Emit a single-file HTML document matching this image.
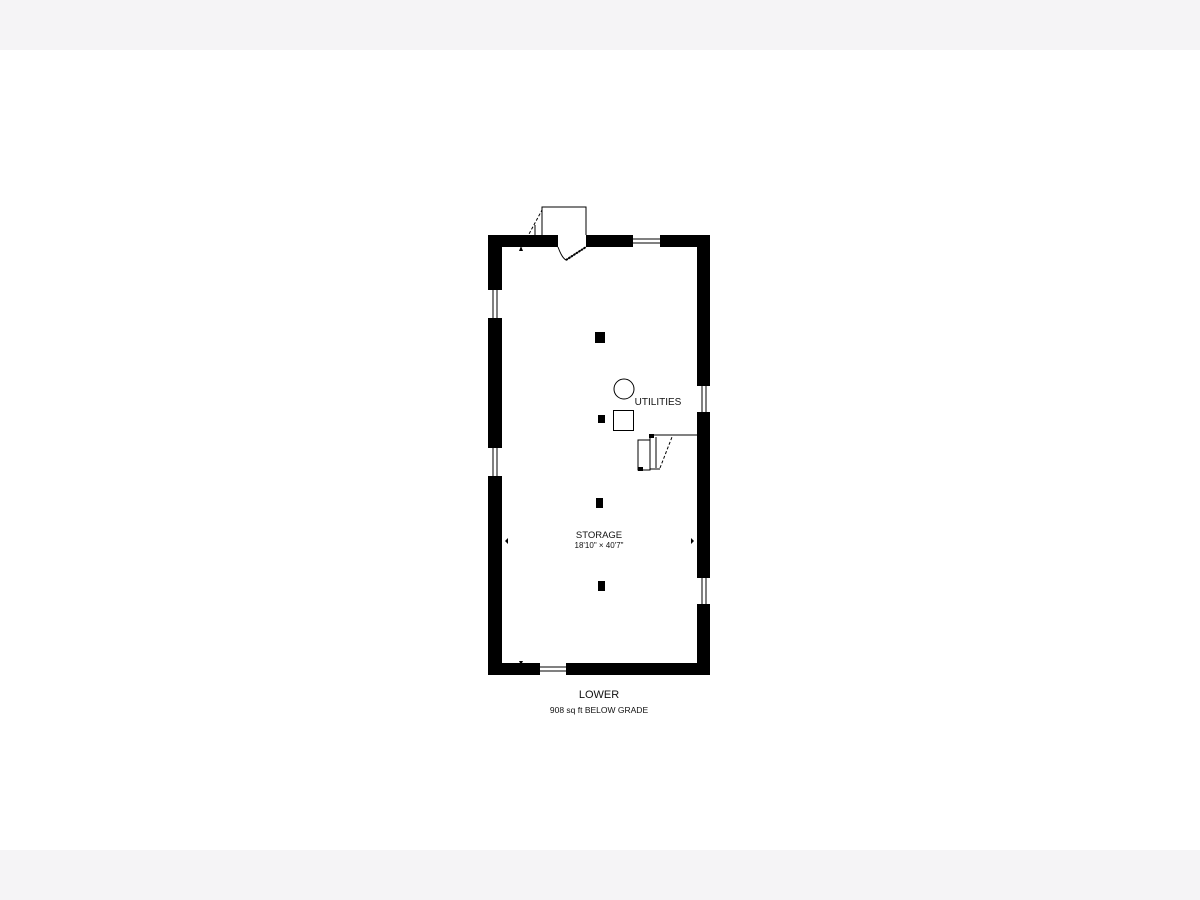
<!DOCTYPE html>
<html><head><style>
body{margin:0;width:1200px;height:900px;background:#fff;position:relative;overflow:hidden;font-family:"Liberation Sans",sans-serif}
.band{position:absolute;left:0;width:1200px;height:50px;background:#f5f4f6}
</style></head><body>
<div class="band" style="top:0"></div>
<div class="band" style="top:850px"></div>
<svg width="1200" height="900" style="position:absolute;left:0;top:0">
<g fill="#000">
<!-- top wall -->
<rect x="488" y="235" width="70" height="12"/>
<rect x="586" y="235" width="47" height="12"/>
<rect x="660" y="235" width="50" height="12"/>
<!-- left wall -->
<rect x="488" y="235" width="14" height="55"/>
<rect x="488" y="318" width="14" height="130"/>
<rect x="488" y="476" width="14" height="199"/>
<!-- right wall -->
<rect x="697" y="235" width="13" height="151"/>
<rect x="697" y="412" width="13" height="166"/>
<rect x="697" y="604" width="13" height="71"/>
<!-- bottom -->
<rect x="488" y="663" width="52" height="12"/>
<rect x="566" y="663" width="144" height="12"/>
<!-- columns -->
<rect x="595" y="332" width="10" height="11"/>
<rect x="598" y="415" width="7" height="8"/>
<rect x="596" y="498" width="7" height="10"/>
<rect x="598" y="581" width="7" height="10"/>
</g>
<g stroke="#000" stroke-width="1" fill="none">
<!-- windows -->
<line x1="633" y1="239" x2="660" y2="239"/><line x1="633" y1="243" x2="660" y2="243"/>
<line x1="493" y1="290" x2="493" y2="318"/><line x1="497" y1="290" x2="497" y2="318"/>
<line x1="493" y1="448" x2="493" y2="476"/><line x1="497" y1="448" x2="497" y2="476"/>
<line x1="702" y1="386" x2="702" y2="412"/><line x1="706" y1="386" x2="706" y2="412"/>
<line x1="702" y1="578" x2="702" y2="604"/><line x1="706" y1="578" x2="706" y2="604"/>
<line x1="540" y1="667" x2="566" y2="667"/><line x1="540" y1="671" x2="566" y2="671"/>
<!-- stair enclosure top -->
<polyline points="542,235 542,207 586,207 586,235"/>
<line x1="535" y1="235" x2="535" y2="225"/>
<line x1="522" y1="247" x2="542" y2="210" stroke-dasharray="3,2"/>
<path d="M558,247 Q562,258 566,260 L586,247" />
<line x1="566" y1="260" x2="586" y2="247" stroke-dasharray="2,1" stroke-width="2"/>
<!-- utilities -->
<circle cx="624" cy="389" r="10"/>
<rect x="613.5" y="410.5" width="20" height="20"/>
<!-- stair right -->
<polyline points="697,435 650,435 650,470 638,470 638,440 650,440"/>
<line x1="656" y1="437" x2="656" y2="468"/>
<line x1="650" y1="469" x2="660" y2="469"/>
<line x1="660" y1="468" x2="672" y2="437" stroke-dasharray="3,2"/>
</g>
<rect x="649" y="434" width="5" height="4" fill="#000"/>
<rect x="638" y="467" width="5" height="4" fill="#000"/>
<g fill="#000">
<polygon points="519,251 523,251 521,246"/>
<polygon points="505,541 508,538 508,544"/>
<polygon points="694,541 691,538 691,544"/>
<polygon points="519,661 523,661 521,665"/>
</g>
<g font-family="Liberation Sans, sans-serif" fill="#111" text-anchor="middle">
<text x="658" y="405" font-size="10">UTILITIES</text>
<text x="599" y="538" font-size="9.5">STORAGE</text>
<text x="599" y="548" font-size="8">18'10" × 40'7"</text>
<text x="599" y="698" font-size="11">LOWER</text>
<text x="599" y="713" font-size="8.5">908 sq ft BELOW GRADE</text>
</g>
</svg>
</body></html>
